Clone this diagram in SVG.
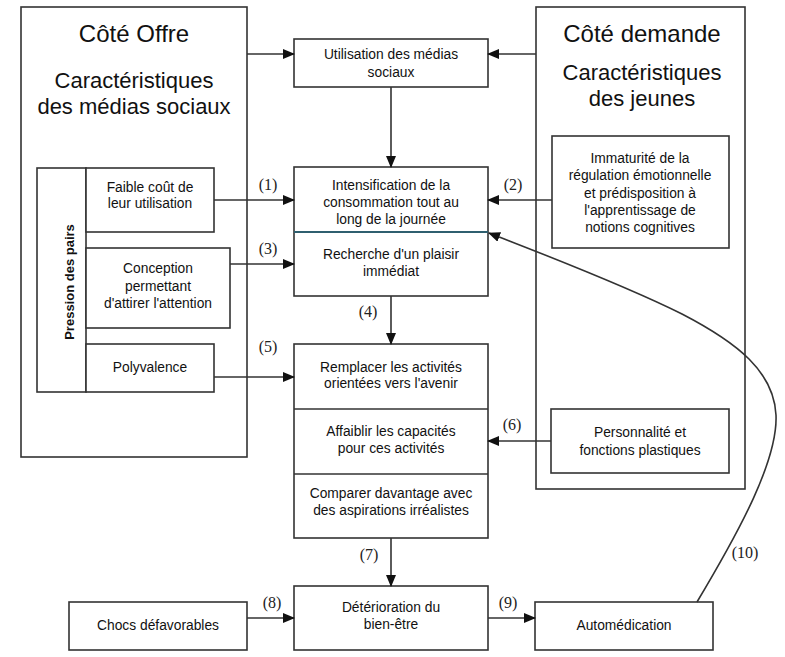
<svg xmlns="http://www.w3.org/2000/svg" width="785" height="657" viewBox="0 0 785 657">
<style>
.box{fill:#fff;stroke:#333;stroke-width:1.6}
.t{font-family:"Liberation Sans",Arial,sans-serif;font-size:13.8px;fill:#111;text-anchor:middle}
.h1{font-family:"Liberation Sans",Arial,sans-serif;font-size:24px;fill:#111;text-anchor:middle}
.h2{font-family:"Liberation Sans",Arial,sans-serif;font-size:22px;fill:#111;text-anchor:middle}
.lb{font-family:"Liberation Serif","Times New Roman",serif;font-size:16px;fill:#222;text-anchor:middle}
.c{fill:none;stroke:#333;stroke-width:1.6}
</style>
<defs>
<marker id="ah" markerUnits="userSpaceOnUse" markerWidth="12" markerHeight="10" refX="11" refY="5" orient="auto">
<path d="M0,0 L12,5 L0,10 z" fill="#111"/>
</marker>
</defs>
<rect width="785" height="657" fill="#fff"/>
<g id="offre">
<rect class="box" x="21" y="7" width="226" height="450"/>
<text class="h1" x="134" y="42">Côté Offre</text>
<text class="h2" x="134" y="88">Caractéristiques</text>
<text class="h2" x="134" y="114">des médias sociaux</text>
</g>
<g id="demande">
<rect class="box" x="536" y="7" width="209" height="482"/>
<text class="h1" x="642" y="42">Côté demande</text>
<text class="h2" x="642" y="80">Caractéristiques</text>
<text class="h2" x="642" y="106">des jeunes</text>
</g>
<g id="pression">
<rect class="box" x="37" y="168" width="49" height="224"/>
<text x="69" y="282" transform="rotate(-90 69 282)" style="font-family:'Liberation Sans',Arial,sans-serif;font-size:13px;font-weight:bold;fill:#111;text-anchor:middle;dominant-baseline:central">Pression des pairs</text>
</g>
<g id="faible">
<rect class="box" x="86" y="168" width="128" height="64"/>
<text class="t" x="150" y="192">Faible coût de</text>
<text class="t" x="150" y="208">leur utilisation</text>
</g>
<g id="conception">
<rect class="box" x="86" y="248" width="144" height="80"/>
<text class="t" x="158" y="273">Conception</text>
<text class="t" x="158" y="291">permettant</text>
<text class="t" x="158" y="308">d'attirer l'attention</text>
</g>
<g id="polyvalence">
<rect class="box" x="86" y="344" width="128" height="48"/>
<text class="t" x="150" y="372">Polyvalence</text>
</g>
<g id="utilisation">
<rect class="box" x="294" y="39" width="194" height="48"/>
<text class="t" x="391" y="59">Utilisation des médias</text>
<text class="t" x="391" y="77">sociaux</text>
</g>
<g id="intensification">
<rect class="box" x="294" y="167" width="194" height="129"/>
<line x1="294" y1="232" x2="488" y2="232" stroke="#2f5f6f" stroke-width="1.8"/>
<text class="t" x="391" y="190">Intensification de la</text>
<text class="t" x="391" y="207">consommation tout au</text>
<text class="t" x="391" y="224">long de la journée</text>
<text class="t" x="391" y="259">Recherche d'un plaisir</text>
<text class="t" x="391" y="276">immédiat</text>
</g>
<g id="remplacer">
<rect class="box" x="294" y="344" width="194" height="194"/>
<line class="c" x1="294" y1="409" x2="488" y2="409"/>
<line class="c" x1="294" y1="474" x2="488" y2="474"/>
<text class="t" x="391" y="372">Remplacer les activités</text>
<text class="t" x="391" y="388">orientées vers l'avenir</text>
<text class="t" x="391" y="436">Affaiblir les capacités</text>
<text class="t" x="391" y="453">pour ces activités</text>
<text class="t" x="391" y="498">Comparer davantage avec</text>
<text class="t" x="391" y="515">des aspirations irréalistes</text>
</g>
<g id="immaturite">
<rect class="box" x="552" y="136" width="177" height="112"/>
<text class="t" x="640" y="163">Immaturité de la</text>
<text class="t" x="640" y="180">régulation émotionnelle</text>
<text class="t" x="640" y="198">et prédisposition à</text>
<text class="t" x="640" y="215">l'apprentissage de</text>
<text class="t" x="640" y="232">notions cognitives</text>
</g>
<g id="personnalite">
<rect class="box" x="551" y="409" width="178" height="64"/>
<text class="t" x="640" y="437">Personnalité et</text>
<text class="t" x="640" y="455">fonctions plastiques</text>
</g>
<g id="chocs">
<rect class="box" x="69" y="602" width="178" height="48"/>
<text class="t" x="158" y="630">Chocs défavorables</text>
</g>
<g id="deterioration">
<rect class="box" x="294" y="586" width="194" height="64"/>
<text class="t" x="391" y="612">Détérioration du</text>
<text class="t" x="391" y="629">bien-être</text>
</g>
<g id="automedication">
<rect class="box" x="535" y="602" width="178" height="48"/>
<text class="t" x="624" y="630">Automédication</text>
</g>
<g id="connectors">
<line class="c" x1="247" y1="54" x2="294" y2="54" marker-end="url(#ah)"/>
<line class="c" x1="536" y1="54" x2="488" y2="54" marker-end="url(#ah)"/>
<line class="c" x1="391" y1="87" x2="391" y2="167" marker-end="url(#ah)"/>
<line class="c" x1="214" y1="200" x2="294" y2="200" marker-end="url(#ah)"/>
<line class="c" x1="552" y1="200" x2="488" y2="200" marker-end="url(#ah)"/>
<line class="c" x1="230" y1="264" x2="294" y2="264" marker-end="url(#ah)"/>
<line class="c" x1="391" y1="296" x2="391" y2="344" marker-end="url(#ah)"/>
<line class="c" x1="214" y1="377" x2="294" y2="377" marker-end="url(#ah)"/>
<line class="c" x1="551" y1="441" x2="488" y2="441" marker-end="url(#ah)"/>
<line class="c" x1="391" y1="538" x2="391" y2="586" marker-end="url(#ah)"/>
<line class="c" x1="247" y1="618" x2="294" y2="618" marker-end="url(#ah)"/>
<line class="c" x1="488" y1="618" x2="535" y2="618" marker-end="url(#ah)"/>
<path class="c" d="M697,602 C740,530 778,460 776,415 C774,372 738,343 682,314 C622,284 540,253 489,233" stroke-width="1.3" marker-end="url(#ah)"/>
<text class="lb" x="268" y="190">(1)</text>
<text class="lb" x="513" y="190">(2)</text>
<text class="lb" x="268" y="254">(3)</text>
<text class="lb" x="368" y="317">(4)</text>
<text class="lb" x="268" y="352">(5)</text>
<text class="lb" x="512" y="430">(6)</text>
<text class="lb" x="369" y="560">(7)</text>
<text class="lb" x="272" y="608">(8)</text>
<text class="lb" x="508" y="608">(9)</text>
<text class="lb" x="745" y="558">(10)</text>
</g>
</svg>
